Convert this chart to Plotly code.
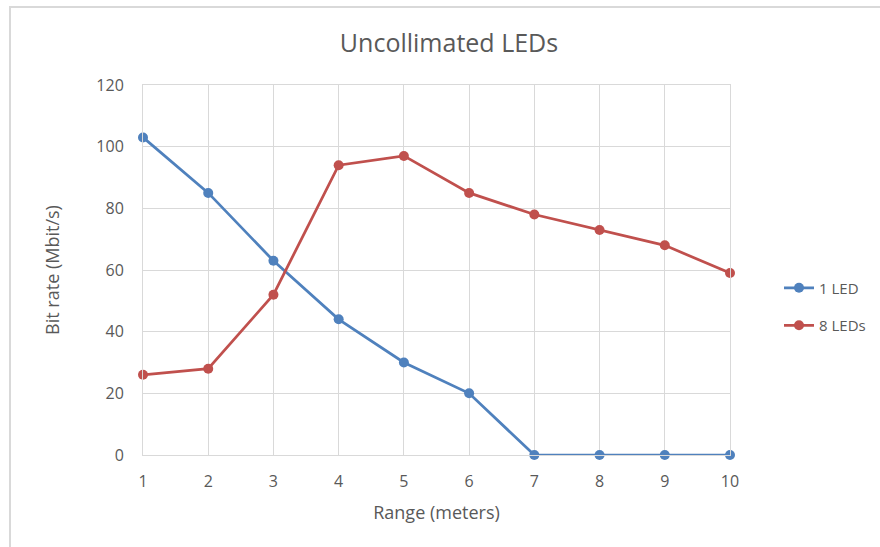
import plotly.graph_objects as go

range_m = [1, 2, 3, 4, 5, 6, 7, 8, 9, 10]
led1 = [103, 85, 63, 44, 30, 20, 0, 0, 0, 0]
led8 = [26, 28, 52, 94, 97, 85, 78, 73, 68, 59]
y_ticks = [0, 20, 40, 60, 80, 100, 120]

FONT = "Open Sans"
GREY = "#595959"
GRID = "#D9D9D9"

fig = go.Figure()
fig.add_trace(go.Scatter(x=range_m, y=led1, name="1 LED", mode="lines+markers",
                         line=dict(color="#4F81BD", width=2.75),
                         marker=dict(size=10, color="#4F81BD"), cliponaxis=False,
                         legendgroup="a"))
fig.add_trace(go.Scatter(x=range_m, y=led8, name="8 LEDs", mode="lines+markers",
                         line=dict(color="#C0504D", width=2.75),
                         marker=dict(size=10, color="#C0504D"), cliponaxis=False,
                         legendgroup="b"))

L, R, T, B = 143, 730, 85, 455
W, H = 880, 547
pw, ph = R - L, B - T

fig.update_layout(
    width=W, height=H,
    margin=dict(l=L, r=W - R, t=T, b=H - B, autoexpand=False),
    paper_bgcolor="white", plot_bgcolor="white",
    font=dict(family=FONT, color=GREY, size=16),
    title=dict(text="Uncollimated LEDs", x=449 / W, xanchor="center",
               y=1 - 43 / H, yanchor="middle",
               font=dict(family=FONT, size=25, color=GREY)),
    xaxis=dict(range=[1, 10], tickvals=range_m, ticktext=[str(v) for v in range_m],
               showgrid=True, gridcolor=GRID, gridwidth=1,
               showline=True, linecolor=GRID, linewidth=1, mirror=True,
               zeroline=False, ticks="outside", ticklen=12, tickcolor="rgba(0,0,0,0)",
               tickfont=dict(size=16, color=GREY),
               title=dict(text="Range (meters)", font=dict(size=18, color=GREY), standoff=15)),
    yaxis=dict(range=[0, 120], tickvals=y_ticks,
               showgrid=True, gridcolor=GRID, gridwidth=1,
               showline=True, linecolor=GRID, linewidth=1, mirror=True,
               zeroline=False, ticks="outside", ticklen=15, tickcolor="rgba(0,0,0,0)",
               tickfont=dict(size=16, color=GREY),
               title=dict(text="Bit rate (Mbit/s)", font=dict(size=18, color=GREY), standoff=32)),
    legend=dict(x=(779 - L) / pw, xanchor="left", y=1 - (306.5 - T) / ph, yanchor="middle",
                font=dict(size=15, color=GREY), traceorder="grouped",
                tracegroupgap=15, bgcolor="rgba(0,0,0,0)"),
    shapes=[dict(type="rect", xref="paper", yref="paper",
                 x0=(10 - L) / pw, x1=(W + 20 - L) / pw,
                 y0=1 - (H + 20 - T) / ph, y1=1 + (T - 7) / ph,
                 line=dict(color="#D9D9D9", width=2), layer="below")],
)

fig.write_html("out.html")
